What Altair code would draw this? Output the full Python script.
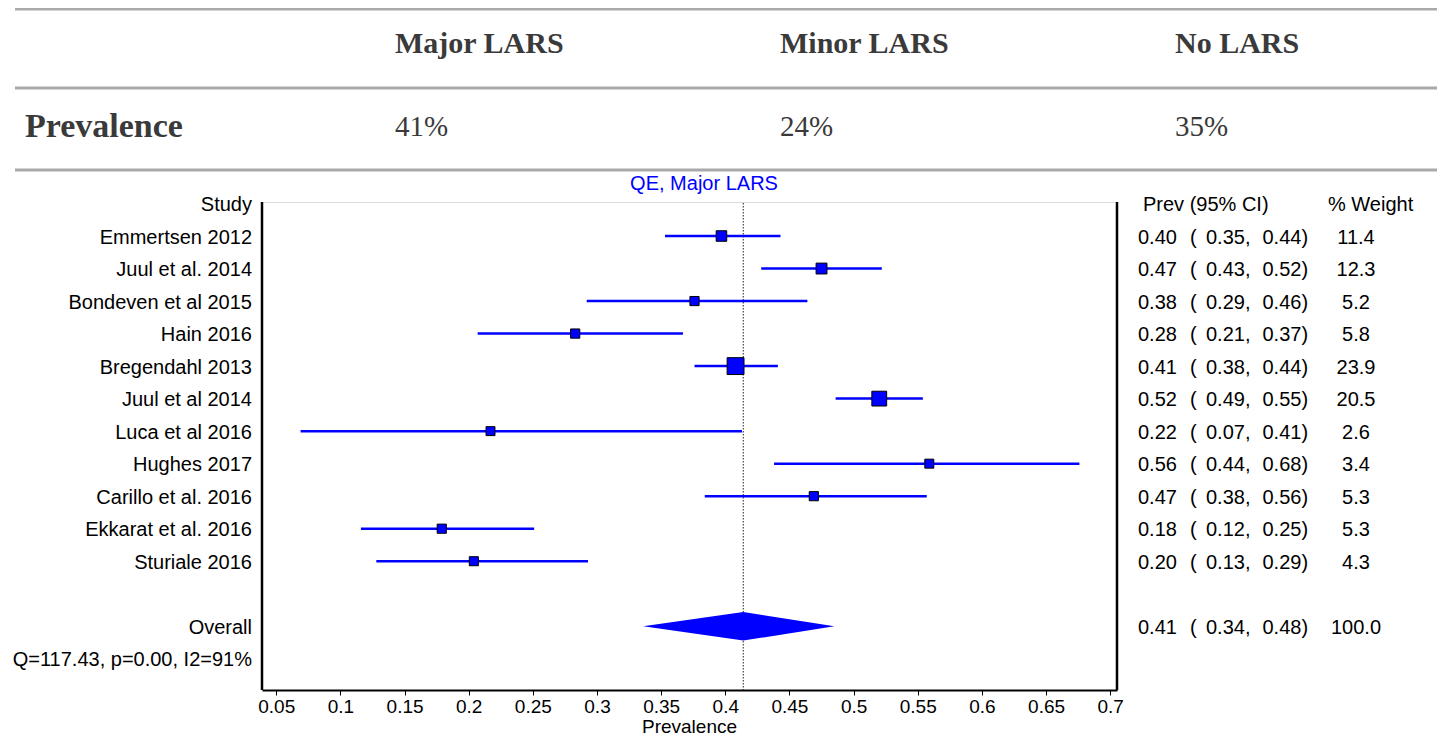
import altair as alt
import pandas as pd

# ---------------- data ----------------
header_cols = ["Major LARS", "Minor LARS", "No LARS"]
header_prev = ["41%", "24%", "35%"]

studies = ["Emmertsen 2012", "Juul et al. 2014", "Bondeven et al 2015", "Hain 2016",
           "Bregendahl 2013", "Juul et al 2014", "Luca et al 2016", "Hughes 2017",
           "Carillo et al. 2016", "Ekkarat et al. 2016", "Sturiale 2016"]
prev = [0.397, 0.475, 0.376, 0.283, 0.408, 0.520, 0.217, 0.559, 0.469, 0.179, 0.204]
ci_low = [0.353, 0.428, 0.292, 0.207, 0.376, 0.486, 0.069, 0.438, 0.384, 0.116, 0.128]
ci_high = [0.443, 0.522, 0.464, 0.367, 0.441, 0.554, 0.413, 0.676, 0.557, 0.251, 0.293]
weights = [11.4, 12.3, 5.2, 5.8, 23.9, 20.5, 2.6, 3.4, 5.3, 5.3, 4.3]

overall_prev, overall_low, overall_high, overall_weight = 0.414, 0.336, 0.485, 100.0
q_stat, p_val, i2 = 117.43, 0.00, 91

tick_values = [0.05, 0.1, 0.15, 0.2, 0.25, 0.3, 0.35, 0.4, 0.45, 0.5, 0.55, 0.6, 0.65, 0.7]
x_title = "Prevalence"

# ---------------- layout / style ----------------
FONT = "Liberation Sans"
SERIF = "Liberation Serif"
W, H = 855, 488
X_DOMAIN = [0.0389, 0.7053]
Y_DOMAIN = [-0.046, 14.96]
BLUE = "#0000ff"
DIAMOND_HALF = 0.44
TDY = 1.5

x_scale = alt.Scale(domain=X_DOMAIN, nice=False, zero=False)
y_scale = alt.Scale(domain=Y_DOMAIN, reverse=True, nice=False, zero=False)
x_axis = alt.Axis(values=tick_values, format="~g", grid=False, domainColor="black",
                  domainWidth=2, tickColor="black", tickSize=5, tickWidth=1,
                  labelFont=FONT, labelFontSize=19, labelColor="black", labelPadding=2,
                  labelFlush=False, labelOverlap=False, title=None)

def X(field):
    return alt.X(field, type="quantitative", scale=x_scale, axis=x_axis)

def Y(field):
    return alt.Y(field, type="quantitative", scale=y_scale, axis=None)

n = len(studies)
study_df = pd.DataFrame({
    "study": studies,
    "row": list(range(1, n + 1)),
    "prev": prev, "lo": ci_low, "hi": ci_high, "weight": weights,
})

overall_row = n + 2
stat_rows = list(range(1, n + 1)) + [overall_row]
stat_df = pd.DataFrame({
    "row": stat_rows,
    "est": [f"{v:.2f}" for v in prev + [overall_prev]],
    "lo": [f"{v:.2f}," for v in ci_low + [overall_low]],
    "hi": [f"{v:.2f})" for v in ci_high + [overall_high]],
    "w": [f"{v:.1f}" for v in weights + [overall_weight]],
})

q_text = f"Q={q_stat:.2f}, p={p_val:.2f}, I2={i2}%"
label_df = pd.DataFrame({
    "label": ["Study"] + studies + ["Overall", q_text],
    "row": [0] + list(range(1, n + 1)) + [overall_row, overall_row + 1],
})

diamond_df = pd.DataFrame({
    "x": [overall_low, overall_prev, overall_high],
    "y": [overall_row, overall_row - DIAMOND_HALF, overall_row],
    "y2": [overall_row, overall_row + DIAMOND_HALF, overall_row],
})
overall_df = pd.DataFrame({"est": [overall_prev]})
one = pd.DataFrame({"a": [0]})

# ---------------- forest layers ----------------
ci = alt.Chart(study_df).mark_rule(color=BLUE, strokeWidth=2.5).encode(
    x=X("lo"), x2="hi", y=Y("row"))

squares = alt.Chart(study_df).mark_square(fill=BLUE, stroke="black", strokeWidth=1,
                                          opacity=1, filled=True).encode(
    x=X("prev"), y=Y("row"),
    size=alt.Size("weight:Q", legend=None,
                  scale=alt.Scale(type="pow", exponent=2.5, domain=[2.6, 23.9],
                                  range=[80, 285], zero=False)))

dotted = alt.Chart(overall_df).mark_rule(color="#222222", strokeWidth=1,
                                         strokeDash=[1.5, 1.5]).encode(
    x=X("est"), y=alt.value(1), y2=alt.value(H))

diamond = alt.Chart(diamond_df).mark_area(color=BLUE, opacity=1, orient="vertical").encode(
    x=X("x"), y=Y("y"), y2="y2")

frame_left = alt.Chart(one).mark_rule(color="black", strokeWidth=2.5).encode(
    x=alt.value(0), y=alt.value(0), y2=alt.value(H))
frame_right = alt.Chart(one).mark_rule(color="black", strokeWidth=2.5).encode(
    x=alt.value(W), y=alt.value(0), y2=alt.value(H))

txt = dict(font=FONT, fontSize=20, color="black", baseline="middle", dy=TDY)
labels = alt.Chart(label_df).mark_text(align="right", **txt).encode(
    x=alt.value(-10), y=Y("row"), text="label:N")

col_est = alt.Chart(stat_df).mark_text(align="left", **txt).encode(
    x=alt.value(876), y=Y("row"), text="est:N")
col_par = alt.Chart(stat_df).mark_text(align="left", text="(", **txt).encode(
    x=alt.value(928), y=Y("row"))
col_lo = alt.Chart(stat_df).mark_text(align="left", **txt).encode(
    x=alt.value(944), y=Y("row"), text="lo:N")
col_hi = alt.Chart(stat_df).mark_text(align="left", **txt).encode(
    x=alt.value(1000.5), y=Y("row"), text="hi:N")
col_w = alt.Chart(stat_df).mark_text(align="center", **txt).encode(
    x=alt.value(1094), y=Y("row"), text="w:N")

hdr_df = pd.DataFrame({"row": [0]})
hdr_prev = alt.Chart(hdr_df).mark_text(align="left", text="Prev (95% CI)", **txt).encode(
    x=alt.value(881), y=Y("row"))
hdr_w = alt.Chart(hdr_df).mark_text(align="left", text="% Weight", **txt).encode(
    x=alt.value(1066), y=Y("row"))

title = alt.Chart(one).mark_text(align="center", baseline="middle", font=FONT, fontSize=20,
                                 color=BLUE, text="QE, Major LARS").encode(
    x=alt.value(442), y=alt.value(-18))

axis_title = alt.Chart(one).mark_text(align="center", baseline="alphabetic", font=FONT,
                                      fontSize=19, color="black", text=x_title).encode(
    x=alt.value(W / 2), y=alt.value(H + 43))

# ---------------- top table ----------------
line_y = [-193, -114, -32]
table_lines = alt.Chart(pd.DataFrame({"y": line_y})).mark_rule(
    color="#a9a9a9", strokeWidth=3).encode(
    x=alt.value(-247), x2=alt.value(1184), y=alt.Y("y:Q", scale=None))

col_x = [133, 518, 913]
head_df = pd.DataFrame({"name": header_cols, "val": header_prev, "x": col_x})
head_names = alt.Chart(head_df).mark_text(
    align="left", baseline="middle", font=SERIF, fontSize=30, fontWeight="bold",
    color="#3a3a3a").encode(x=alt.X("x:Q", scale=None), y=alt.value(-158), text="name:N")
head_vals = alt.Chart(head_df).mark_text(
    align="left", baseline="middle", font=SERIF, fontSize=29,
    color="#3a3a3a").encode(x=alt.X("x:Q", scale=None), y=alt.value(-75), text="val:N")
head_row = alt.Chart(one).mark_text(
    align="left", baseline="middle", font=SERIF, fontSize=34, fontWeight="bold",
    color="#3a3a3a", text="Prevalence").encode(x=alt.value(-237), y=alt.value(-75))

chart = alt.layer(
    table_lines, head_names, head_vals, head_row,
    dotted, ci, squares, diamond, frame_left, frame_right,
    labels, col_est, col_par, col_lo, col_hi, col_w, hdr_prev, hdr_w, title, axis_title,
).properties(
    width=W, height=H,
    autosize=alt.AutoSizeParams(type="none"),
    padding={"left": 254, "top": 194, "right": 320, "bottom": 47},
).configure_view(stroke=None).configure(background="white")

chart.save("out.html", embed_options={"renderer": "svg", "actions": False})
